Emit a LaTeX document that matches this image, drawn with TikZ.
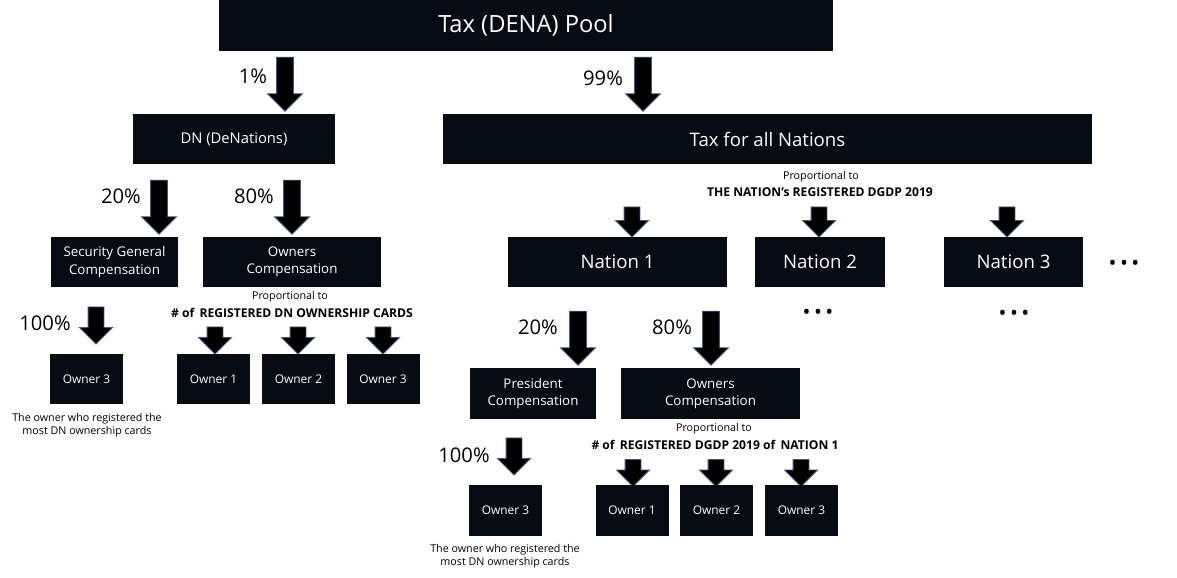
\documentclass[tikz,border=0pt]{standalone}
\usepackage{fontspec}
\setmainfont{Open Sans}
\usetikzlibrary{shapes.arrows}
\definecolor{boxFill}{HTML}{070B14}
\definecolor{arrowEdge}{HTML}{41597A}
\newcommand{\px}{0.02cm}
\newcommand{\boxHeight}{50}
\newcommand{\ownerWidth}{73}
\newcommand{\bigArrowLength}{54}
\newcommand{\fullArrowLength}{37}
\newcommand{\shareArrowLength}{27}
\newcommand{\nationArrowLength}{30}
\tikzset{
  darkBox/.style={fill=boxFill, text=white, minimum height=\boxHeight*\px, inner sep=0pt, align=center},
  fatArrow/.style={single arrow, rotate=-90, fill=black, draw=arrowEdge, line width=0.5pt,
    inner xsep=0pt, inner ysep=8*\px, single arrow head extend=9*\px, single arrow tip angle=90,
    minimum height=#1*\px},
  thinArrow/.style={fatArrow=#1, inner ysep=7.5*\px, single arrow head extend=8.5*\px},
  percent/.style={font=\fontsize{11.5}{12}\selectfont},
  note/.style={font=\fontsize{6.1}{7.6}\selectfont, align=center},
  ruleText/.style={font=\bfseries\fontsize{6.9}{7}\selectfont},
  dots/.style={font=\fontsize{12}{12}\selectfont},
  compText/.style={font=\fontsize{7.6}{9.8}\selectfont},
  ownerText/.style={font=\fontsize{6.8}{8}\selectfont},
}
\begin{document}
\begin{tikzpicture}[x=\px, y=-\px]
  \useasboundingbox (0,0) rectangle (1177,578);

  % Pool
  \node[darkBox, minimum width=614*\px, font=\fontsize{13.5}{14}\selectfont] (pool) at (526,25.5) {Tax (DENA) Pool};
  \node[fatArrow=\bigArrowLength] (poolToDn) at (285,80) {};
  \node[fatArrow=\bigArrowLength] (poolToNations) at (643,80) {};
  \node[percent] (dnShare) at (253,76) {1\%};
  \node[percent] (nationsShare) at (603,78) {99\%};

  % DN branch
  \node[darkBox, minimum width=202*\px, font=\fontsize{8.4}{10}\selectfont] (dn) at (234,139) {DN (DeNations)};
  \node[fatArrow=\bigArrowLength] (dnToSec) at (159,203) {};
  \node[fatArrow=\bigArrowLength] (dnToOwners) at (292,203) {};
  \node[percent] (secShare) at (121,196) {20\%};
  \node[percent] (dnOwnersShare) at (254,196) {80\%};
  \node[darkBox, compText, minimum width=127*\px] (secGen) at (114.5,262) {Security General\\Compensation};
  \node[darkBox, compText, minimum width=178*\px] (dnOwners) at (292,262) {Owners\\Compensation};

  % DN owners
  \node[thinArrow=\fullArrowLength] (secToOwner) at (96,321.5) {};
  \node[percent] (secFull) at (45,323) {100\%};
  \node[darkBox, ownerText, minimum width=\ownerWidth*\px] (dnOwnerMost) at (86.5,379) {Owner 3};
  \node[note] (dnMostNote) at (87,425) {The owner who registered the\\most DN ownership cards};
  \node[note] (dnRule) at (290,297) {Proportional to};
  \node[ruleText] (dnRuleBold) at (292,313) {\# of\, REGISTERED DN OWNERSHIP CARDS};
  \foreach \name/\cx/\ax [count=\i] in {dnOwnerA/213.5/215, dnOwnerB/298.5/298, dnOwnerC/383/383} {
    \node[thinArrow=\shareArrowLength] (\name Arrow) at (\ax,336.5) {};
    \node[darkBox, ownerText, minimum width=\ownerWidth*\px] (\name) at (\cx,379) {Owner \i};
  }

  % Nations branch
  \node[darkBox, minimum width=649*\px, font=\fontsize{10.6}{12}\selectfont] (allNations) at (767.5,139) {Tax for all Nations};
  \node[note] (nationRule) at (821,177) {Proportional to};
  \node[ruleText] (nationRuleBold) at (820,192) {THE NATION’s REGISTERED DGDP 2019};
  \foreach \name/\cx/\w/\ax [count=\i] in {nationA/617.5/219/632, nationB/820/130/819, nationC/1013.5/139/1007} {
    \node[thinArrow=\nationArrowLength] (\name Arrow) at (\ax,218) {};
    \node[darkBox, minimum width=\w*\px, font=\fontsize{10.6}{11}\selectfont] (\name) at (\cx,262) {Nation \i};
  }
  \node[dots] (moreNations) at (1124,265) {•\,•\,•};
  \node[dots] (nationBMore) at (818,314) {•\,•\,•};
  \node[dots] (nationCMore) at (1014,315) {•\,•\,•};

  % Nation 1 split
  \node[fatArrow=\bigArrowLength] (nationToPres) at (578,334) {};
  \node[fatArrow=\bigArrowLength] (nationToOwners) at (711,334) {};
  \node[percent] (presShare) at (538,327) {20\%};
  \node[percent] (n1OwnersShare) at (672,327) {80\%};
  \node[darkBox, compText, minimum width=126*\px, minimum height=51*\px] (president) at (533,393.5) {President\\Compensation};
  \node[darkBox, compText, minimum width=179*\px, minimum height=51*\px] (n1Owners) at (710.5,393.5) {Owners\\Compensation};

  % Nation 1 owners
  \node[thinArrow=\fullArrowLength] (presToOwner) at (514,452.5) {};
  \node[percent] (presFull) at (464,455) {100\%};
  \node[darkBox, ownerText, minimum width=\ownerWidth*\px, minimum height=51*\px] (n1OwnerMost) at (505.5,510.5) {Owner 3};
  \node[note] (n1MostNote) at (505,556) {The owner who registered the\\most DN ownership cards};
  \node[note] (n1Rule) at (714,429) {Proportional to};
  \node[ruleText] (n1RuleBold) at (715,445) {\# of\, REGISTERED DGDP 2019 of\, NATION 1};
  \foreach \name/\cx/\ax [count=\i] in {n1OwnerA/632/633, n1OwnerB/716.5/716, n1OwnerC/801.5/801} {
    \node[thinArrow=\shareArrowLength] (\name Arrow) at (\ax,469) {};
    \node[darkBox, ownerText, minimum width=\ownerWidth*\px, minimum height=51*\px] (\name) at (\cx,510.5) {Owner \i};
  }
\end{tikzpicture}
\end{document}
